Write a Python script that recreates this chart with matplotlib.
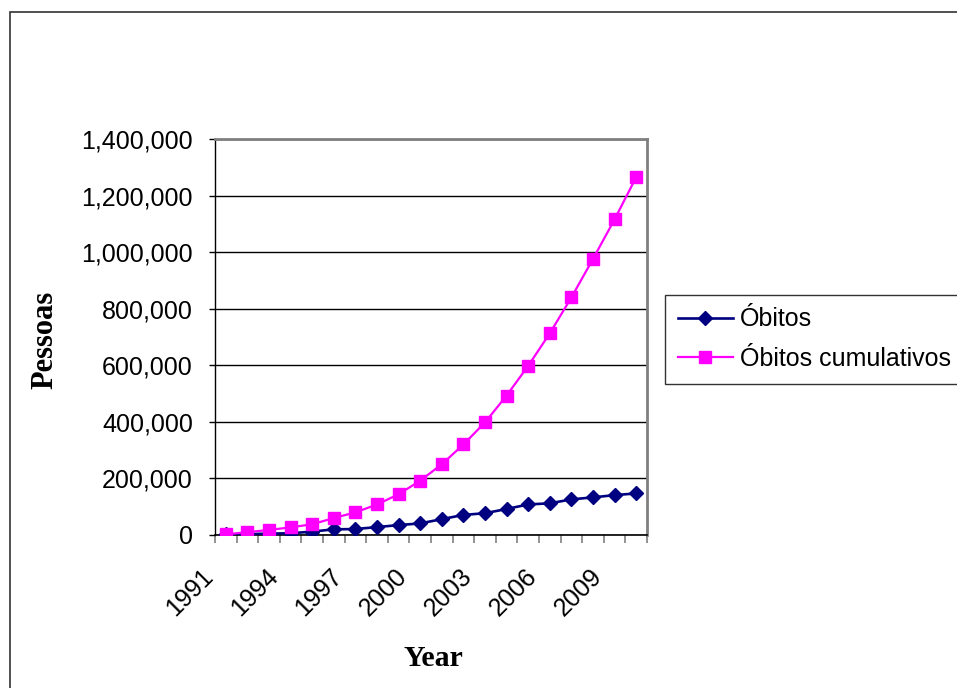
import matplotlib
matplotlib.use("Agg")
import matplotlib.pyplot as plt
from matplotlib.patches import Rectangle
from matplotlib.ticker import FuncFormatter, FixedLocator
from matplotlib.transforms import ScaledTranslation

years = list(range(1991, 2011))
obitos = [2000, 3000, 5000, 6000, 12000, 20000, 21000, 28000, 35000, 41000,
          56000, 71000, 77000, 92000, 108000, 112000, 126000, 133000, 141000, 147000]
obitos_cum = [2500, 10000, 18000, 27000, 38000, 60000, 80000, 108000, 144000, 192000,
              250000, 320000, 398000, 493000, 598000, 713000, 840000, 976000, 1116000, 1265000]
label_years = [1991, 1994, 1997, 2000, 2003, 2006, 2009]
series_names = ["Óbitos", "Óbitos cumulativos"]

W, H = 957, 688
fig = plt.figure(figsize=(W / 100, H / 100), dpi=100)
fig.patch.set_facecolor("white")

def fx(px):
    return px / W

def fy(py):
    return 1 - py / H

ax_l, ax_r, ax_t, ax_b = 215, 647, 139, 535
ax = fig.add_axes([fx(ax_l), fy(ax_b), (ax_r - ax_l) / W, (ax_b - ax_t) / H])

xs = list(range(len(years)))
ax.plot(xs, obitos, color="#000080", lw=1.9, marker="D", ms=7.5,
        markerfacecolor="#000080", markeredgecolor="#000080", label=series_names[0], zorder=3)
ax.plot(xs, obitos_cum, color="#FF00FF", lw=1.6, marker="s", ms=8.2,
        markerfacecolor="#FF00FF", markeredgecolor="#FF00FF", label=series_names[1], zorder=4)

ax.set_xlim(-0.5, len(years) - 0.5)
ax.set_ylim(0, 1400000)
ax.set_yticks(range(0, 1400001, 200000))
ax.yaxis.set_major_formatter(FuncFormatter(lambda v, p: f"{int(v):,}"))
ax.grid(axis="y", color="black", lw=1)
ax.set_axisbelow(True)

# x axis: boundary ticks (major), labels at category centres (minor)
ax.xaxis.set_major_locator(FixedLocator([i - 0.5 for i in range(len(years) + 1)]))
ax.xaxis.set_major_formatter(FuncFormatter(lambda v, p: ""))
ax.xaxis.set_minor_locator(FixedLocator([years.index(y) for y in label_years]))
ax.set_xticklabels([str(y) for y in label_years], minor=True)
ax.tick_params(axis="x", which="major", direction="out", length=6, width=1.2, color="#808080")
ax.tick_params(axis="x", which="minor", length=0, pad=21, labelsize=18)
ax.tick_params(axis="y", direction="out", length=4, width=1, color="black", pad=12, labelsize=18)
for lab in ax.get_xticklabels(minor=True):
    lab.set_rotation(45)
    lab.set_ha("right")
    lab.set_va("top")
    lab.set_fontfamily("Liberation Sans")
    lab.set_transform(lab.get_transform() + ScaledTranslation(-8 / 100, 0, fig.dpi_scale_trans))
for lab in ax.get_yticklabels():
    lab.set_fontfamily("Liberation Sans")

for s in ["top", "right"]:
    ax.spines[s].set_color("#808080")
    ax.spines[s].set_linewidth(2)
ax.spines["left"].set_color("black")
ax.spines["left"].set_linewidth(1)
ax.spines["bottom"].set_color("black")
ax.spines["bottom"].set_linewidth(1.2)

ax.set_ylabel("Pessoas", fontfamily="Liberation Serif", fontweight="bold", fontsize=22)
ax.yaxis.set_label_coords(fx(45), fy(340), transform=fig.transFigure)
ax.yaxis.label.set_va("center")
ax.set_xlabel("Year", fontfamily="Liberation Serif", fontweight="bold", fontsize=21.5)
ax.xaxis.set_label_coords(fx(433), fy(658), transform=fig.transFigure)
ax.xaxis.label.set_va("center")

leg = ax.legend(loc="upper left", bbox_to_anchor=(fx(665), fy(295)), bbox_transform=fig.transFigure,
                borderaxespad=0, frameon=True, fancybox=False, shadow=False,
                prop={"family": "Liberation Sans", "size": 18},
                handlelength=2.2, handletextpad=0.3, labelspacing=0.62, borderpad=0.5)
leg.get_frame().set_edgecolor("black")
leg.get_frame().set_linewidth(1)

fig.patches.append(Rectangle((fx(10), -0.1), 1.1, fy(12) + 0.1, transform=fig.transFigure,
                             fill=False, edgecolor="#333333", lw=1.2, zorder=0))

fig.savefig("out.png", dpi=100)
